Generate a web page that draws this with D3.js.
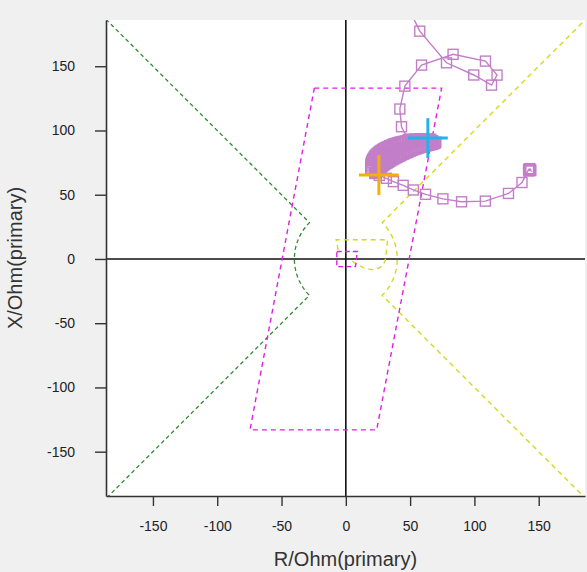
<!DOCTYPE html>
<html>
<head>
<meta charset="utf-8">
<script src="https://cdn.jsdelivr.net/npm/d3@7"></script>
<style>
  html, body { margin: 0; padding: 0; background: #f0f0f0; }
  svg { display: block; }
  text { font-family: "Liberation Sans", Arial, sans-serif; }
</style>
</head>
<body>
<svg id="chart" width="587" height="572"></svg>
<script>
// ---------------- data ----------------
const xDomain = [-186.5, 186];
const yDomain = [-184.5, 186];
const tickValues = [-150, -100, -50, 0, 50, 100, 150];
const xTitle = "R/Ohm(primary)";
const yTitle = "X/Ohm(primary)";

// impedance trajectory [R, X] (Ohm primary)
const preFault = [
  [142.3, 68.5], [143.0, 69.2], [143.6, 69.8], [142.8, 70.3], [143.8, 68.8], [142.1, 69.6],
  [137, 59.5], [126.5, 51], [108.5, 45], [90, 44.5], [75.5, 46.8], [62, 50.3],
  [52.5, 53.7], [44.6, 57.3], [37, 60.2], [31.5, 62.8], [26, 65]
];
const faultBand = [
  [19.5,69],[22.5,66.5],[19.4,70.2],[23.2,67.3],
  [19.3,71.5],[24,68.2],[19.4,72.8],[24.8,69],
  [19.6,74],[25.6,69.8],[19.9,75.2],[26.4,70.5],
  [20.3,76.3],[27.3,71.3],[20.8,77.4],[28.2,72],
  [21.4,78.5],[29.1,72.7],[22.1,79.5],[30,73.3],
  [22.8,80.5],[31,74],[23.6,81.4],[32,74.6],
  [24.5,82.2],[33,75.3],[25.4,83],[34,75.9],
  [26.4,83.8],[35,76.5],[27.4,84.5],[36,77.1],
  [28.5,85.2],[37.1,77.7],[29.6,85.9],[38.1,78.2],
  [30.7,86.5],[39.2,78.8],[31.8,87],[40.2,79.3],
  [33,87.6],[41.3,79.9],[34.2,88.2],[42.4,80.4],
  [35.4,88.7],[43.5,81],[36.6,89.2],[44.6,81.5],
  [37.8,89.6],[45.7,82],[39,90],[46.8,82.5],
  [40.3,90.4],[47.9,83],[41.5,90.8],[49,83.5],
  [42.8,91.1],[50.1,84],[44,91.4],[51.2,84.4],
  [45.3,91.6],[52.3,84.9],[46.5,91.8],[53.4,85.3],
  [47.8,92],[54.5,85.7],[49,92.2],[55.6,86],
  [50.3,92.3],[56.7,86.4],[51.5,92.4],[57.8,86.8],
  [52.8,92.5],[58.9,87.1],[54,92.6],[60,87.4],
  [55.3,92.6],[61.1,87.7],[56.5,92.6],[62.2,88],
  [57.8,92.6],[63.3,88.3],[59,92.6],[64.3,88.5],
  [60.3,92.6],[65.4,88.8],[61.5,92.6],[66.4,89.1],
  [62.8,92.5],[67.4,89.4],[64,92.4],[68.3,89.7],
  [65.3,92.3],[69.2,90],[66.4,92.2],[69.6,90.5],
  [67.6,92],[70,91],
  [66,93.2],[63,93.4],[60,93.5],[57,93.5],[54,93.4],[51,93.2],[48.5,93]
];
const postFault = [
  [43.3, 102.9], [42, 116.7], [45.9, 134.5], [58.9, 150.9], [83.4, 159.3],
  [108.6, 154], [117.6, 143.1], [113.3, 135.3], [99.5, 143.2], [78.3, 152.7],
  [57.5, 177.3], [46, 201]
];

// cross markers [R, X]
const crossOrange = [25.7, 65.3];
const crossCyan = [63.8, 94.1];
const crossArm = 15.5;

// characteristics
const greenZone = { radius: 40, startDeg: 135, endDeg: 225 };
const yellowZone = { radius: 40, startDeg: 45, endDeg: -45 };
const yellowInner = [
  [-6, 7], [-7.5, 15], [32.5, 15], [31.5, 6], [30.5, -2], [27, -6.5],
  [21, -8.5], [14, -7], [7, -3], [3, 0]
];
const magentaZone = [[-24.5, 133], [74.5, 133], [24, -133], [-74.5, -133], [-24.5, 133]];
const magentaSmall = [[-7, 5.8], [9, 5.8], [7.5, -6], [-7, -6], [-7, 5.8]];

// ---------------- drawing ----------------
const svg = d3.select("#chart");
const W = 587, H = 572;
const L = 106, T = 20, R = 585, B = 496;

svg.append("rect").attr("width", W).attr("height", H).attr("fill", "#f0f0f0");
svg.append("rect").attr("x", L).attr("y", T).attr("width", R - L).attr("height", B - T).attr("fill", "#ffffff");

const x = d3.scaleLinear().domain(xDomain).range([L, R]);
const y = d3.scaleLinear().domain(yDomain).range([B, T]);

svg.append("defs").append("clipPath").attr("id", "plotclip")
  .append("rect").attr("x", L).attr("y", T).attr("width", R - L).attr("height", B - T);

const g = svg.append("g").attr("clip-path", "url(#plotclip)");

// zero lines
g.append("line").attr("x1", x(0)).attr("x2", x(0)).attr("y1", T).attr("y2", B)
  .attr("stroke", "#111").attr("stroke-width", 1.6);
g.append("line").attr("x1", L).attr("x2", R).attr("y1", y(0)).attr("y2", y(0))
  .attr("stroke", "#111").attr("stroke-width", 1.6);

const line = d3.line().x(d => x(d[0])).y(d => y(d[1]));

function zonePath(z) {
  const toRad = a => a * Math.PI / 180;
  const r = z.radius;
  const far = 400;
  const a0 = toRad(z.startDeg), a1 = toRad(z.endDeg);
  const pts = [];
  pts.push([far * Math.cos(a0), far * Math.sin(a0)]);
  pts.push([r * Math.cos(a0), r * Math.sin(a0)]);
  const n = 40;
  for (let i = 1; i < n; i++) {
    const a = a0 + (a1 - a0) * i / n;
    pts.push([r * Math.cos(a), r * Math.sin(a)]);
  }
  pts.push([r * Math.cos(a1), r * Math.sin(a1)]);
  pts.push([far * Math.cos(a1), far * Math.sin(a1)]);
  return line(pts);
}

const green = "#2e8b2e", yellow = "#d8d818", magenta = "#e020e0";

g.append("path").attr("d", zonePath(greenZone)).attr("fill", "none")
  .attr("stroke", green).attr("stroke-width", 1.3).attr("stroke-dasharray", "4,3");
g.append("path").attr("d", zonePath(yellowZone)).attr("fill", "none")
  .attr("stroke", yellow).attr("stroke-width", 1.4).attr("stroke-dasharray", "5,4");
g.append("path").attr("d", line(yellowInner)).attr("fill", "none")
  .attr("stroke", yellow).attr("stroke-width", 1.4).attr("stroke-dasharray", "5,4");
g.append("path").attr("d", line(magentaZone)).attr("fill", "none")
  .attr("stroke", magenta).attr("stroke-width", 1.4).attr("stroke-dasharray", "5,4");
g.append("path").attr("d", line(magentaSmall)).attr("fill", "none")
  .attr("stroke", magenta).attr("stroke-width", 1.4).attr("stroke-dasharray", "5,3");

// trajectory
const purple = "#c27fc8";
const traj = preFault.concat(faultBand, postFault);
g.append("path").attr("d", line(traj)).attr("fill", "none")
  .attr("stroke", purple).attr("stroke-width", 1.4);
g.selectAll("rect.mk").data(traj).enter().append("rect").attr("class", "mk")
  .attr("x", d => x(d[0]) - 5).attr("y", d => y(d[1]) - 5)
  .attr("width", 10).attr("height", 10)
  .attr("fill", "none").attr("stroke", purple).attr("stroke-width", 1.4);

// crosses
function cross(c, color) {
  const cg = g.append("g").attr("stroke", color).attr("stroke-width", 3);
  cg.append("line").attr("x1", x(c[0] - crossArm)).attr("x2", x(c[0] + crossArm))
    .attr("y1", y(c[1])).attr("y2", y(c[1]));
  cg.append("line").attr("x1", x(c[0])).attr("x2", x(c[0]))
    .attr("y1", y(c[1] - crossArm)).attr("y2", y(c[1] + crossArm));
}
cross(crossOrange, "#f5b000");
cross(crossCyan, "#22b4e8");

// axes
const fmt = d => String(d);
const yAxis = d3.axisLeft(y).tickValues(tickValues).tickFormat(fmt).tickSize(11).tickSizeOuter(0).tickPadding(20);
const xAxis = d3.axisBottom(x).tickValues(tickValues).tickFormat(fmt).tickSize(10).tickSizeOuter(0).tickPadding(15);

const ya = svg.append("g").attr("transform", `translate(${L},0)`).call(yAxis);
const xa = svg.append("g").attr("transform", `translate(0,${B})`).call(xAxis);
[ya, xa].forEach(a => {
  a.select(".domain").attr("stroke", "#333").attr("stroke-width", 1.6);
  a.selectAll(".tick line").attr("stroke", "#333").attr("stroke-width", 1.4);
  a.selectAll(".tick text").attr("fill", "#222").style("font-size", "14px");
});

svg.append("text").attr("x", (L + R) / 2).attr("y", 566).attr("text-anchor", "middle")
  .attr("fill", "#333").style("font-size", "20px").text(xTitle);
svg.append("text").attr("transform", `translate(22,${(T + B) / 2}) rotate(-90)`)
  .attr("text-anchor", "middle").attr("fill", "#333").style("font-size", "20px").text(yTitle);
</script>
</body>
</html>
